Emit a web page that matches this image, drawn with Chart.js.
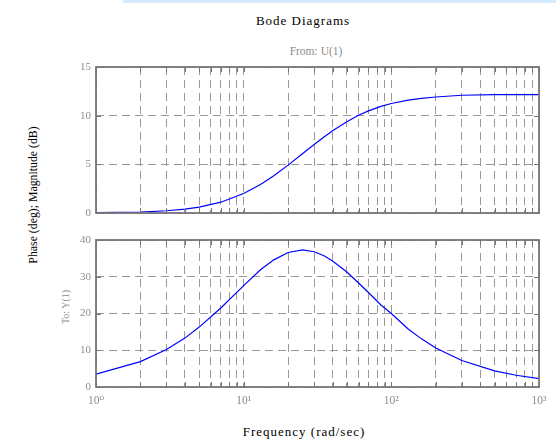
<!DOCTYPE html>
<html>
<head>
<meta charset="utf-8">
<script src="https://cdn.jsdelivr.net/npm/chart.js@4"></script>
<style>
  html, body { margin:0; padding:0; background:#fff; }
  body { width:556px; height:445px; position:relative; overflow:hidden; font-family:'Liberation Serif','DejaVu Serif',serif; font-weight:normal; }
  .abs { position:absolute; white-space:nowrap; font-weight:normal; }
  #banner { left:123px; top:0; width:433px; height:3px; background:#d5ebfd; }
  #title { left:303px; top:21px; transform:translate(-50%,-50%); font-size:13px; letter-spacing:1px; color:#000; }
  #from { left:316px; top:51px; transform:translate(-50%,-50%); font-size:11.5px; color:#8c8c8c; }
  #xlabel { left:304px; top:432px; transform:translate(-50%,-50%); font-size:13px; letter-spacing:1px; color:#000; }
  #ylabel { left:33px; top:195px; transform:translate(-50%,-50%) rotate(-90deg); font-size:11.8px; color:#000; }
  #tolabel { left:65px; top:307px; transform:translate(-50%,-50%) rotate(-90deg); font-size:10px; color:#8c8c8c; }
  #w1 { left:0; top:0; width:556px; height:225px; }
  #w2 { left:0; top:225px; width:556px; height:220px; }
</style>
</head>
<body>
<div class="abs" id="banner"></div>
<div class="abs" id="title">Bode Diagrams</div>
<div class="abs" id="from">From: U(1)</div>
<div class="abs" id="ylabel">Phase (deg); Magnitude (dB)</div>
<div class="abs" id="tolabel">To: Y(1)</div>
<div class="abs" id="xlabel">Frequency (rad/sec)</div>
<div class="abs" id="w1"><canvas id="c1"></canvas></div>
<div class="abs" id="w2"><canvas id="c2"></canvas></div>
<script>
// ---- data ----
const freqs       = [1, 2, 3, 4, 5, 7, 10, 13, 16, 20, 25, 30, 35, 40, 50, 60, 70, 85, 100, 130, 160, 200, 300, 500, 700, 1000];
const magnitudeDb = [0.03, 0.10, 0.23, 0.40, 0.61, 1.11, 2.0, 2.92, 3.83, 4.92, 6.08, 7.03, 7.8, 8.44, 9.38, 10.04, 10.49, 10.95, 11.25, 11.6, 11.78, 11.92, 12.1, 12.17, 12.17, 12.17];
const phaseDeg    = [3.5, 6.9, 10.2, 13.3, 16.3, 21.5, 27.6, 31.9, 34.6, 36.6, 37.3, 36.8, 35.7, 34.3, 31.3, 28.3, 25.7, 22.3, 20.0, 15.8, 13.1, 10.6, 7.2, 4.4, 3.2, 2.3];
const decades     = [1, 10, 100, 1000];
const xTickLabels = ['10\u2070', '10\u00B9', '10\u00B2', '10\u00B3'];
const magTicks    = [0, 5, 10, 15];
const phaseTicks  = [0, 10, 20, 30, 40];

const FONT = "'Liberation Serif','DejaVu Serif',serif";
const GRID = '#999999';
const AXIS = '#767676';
const LABEL = '#8c8c8c';

function allLogTicks() {
  const t = [];
  for (let d = 0; d < decades.length - 1; d++) {
    for (let k = 1; k < 10; k++) t.push(decades[d] * k);
  }
  t.push(decades[decades.length - 1]);
  return t;
}

const boxPlugin = {
  id: 'box',
  afterDatasetsDraw(chart) {
    const { ctx, chartArea: a, scales } = chart;
    ctx.save();
    ctx.strokeStyle = AXIS;
    ctx.lineWidth = 1;
    ctx.beginPath();
    scales.x.ticks.forEach(t => {
      const px = Math.round(scales.x.getPixelForValue(t.value)) + 0.5;
      ctx.moveTo(px, a.bottom); ctx.lineTo(px, a.bottom - 5);
      ctx.moveTo(px, a.top); ctx.lineTo(px, a.top + 5);
    });
    scales.y.ticks.forEach(t => {
      const py = Math.round(scales.y.getPixelForValue(t.value)) + 0.5;
      ctx.moveTo(a.left, py); ctx.lineTo(a.left + 5, py);
      ctx.moveTo(a.right, py); ctx.lineTo(a.right - 5, py);
    });
    ctx.stroke();
    ctx.lineWidth = 1.8;
    ctx.strokeRect(a.left, a.top, a.right - a.left, a.bottom - a.top);
    ctx.restore();
  }
};

function makeChart(id, values, yTicks, yMax, showX, padTop, xAxisHeight) {
  const pts = freqs.map((f, i) => ({ x: f, y: values[i] }));
  return new Chart(document.getElementById(id), {
    type: 'line',
    data: { datasets: [{ data: pts, borderColor: '#0000ff', borderWidth: 1.2, pointRadius: 0, tension: 0, fill: false }] },
    options: {
      responsive: true,
      maintainAspectRatio: false,
      animation: false,
      events: [],
      layout: { padding: { top: padTop, right: 17, left: 0, bottom: 0 } },
      plugins: { legend: { display: false }, tooltip: { enabled: false }, title: { display: false } },
      scales: {
        x: {
          type: 'logarithmic',
          min: decades[0],
          max: decades[decades.length - 1],
          afterBuildTicks: s => { s.ticks = allLogTicks().map(v => ({ value: v })); },
          afterFit: s => { s.height = xAxisHeight; },
          grid: { display: true, color: GRID, lineWidth: 1, drawTicks: false },
          border: { display: false, dash: [8, 5] },
          ticks: {
            display: showX,
            autoSkip: false,
            maxRotation: 0,
            padding: 7,
            color: LABEL,
            font: { family: FONT, size: 11.5 },
            callback: v => { const i = decades.indexOf(v); return i >= 0 ? xTickLabels[i] : ''; }
          }
        },
        y: {
          min: yTicks[0],
          max: yMax,
          afterBuildTicks: s => { s.ticks = yTicks.map(v => ({ value: v })); },
          afterFit: s => { s.width = 96; },
          grid: { display: true, color: GRID, lineWidth: 1, drawTicks: false },
          border: { display: false, dash: [8, 5] },
          ticks: { padding: 5, color: LABEL, font: { family: FONT, size: 11 } }
        }
      }
    },
    plugins: [boxPlugin]
  });
}

makeChart('c1', magnitudeDb, magTicks, 15, false, 67, 12);
makeChart('c2', phaseDeg, phaseTicks, 40, true, 15, 58);
</script>
</body>
</html>
